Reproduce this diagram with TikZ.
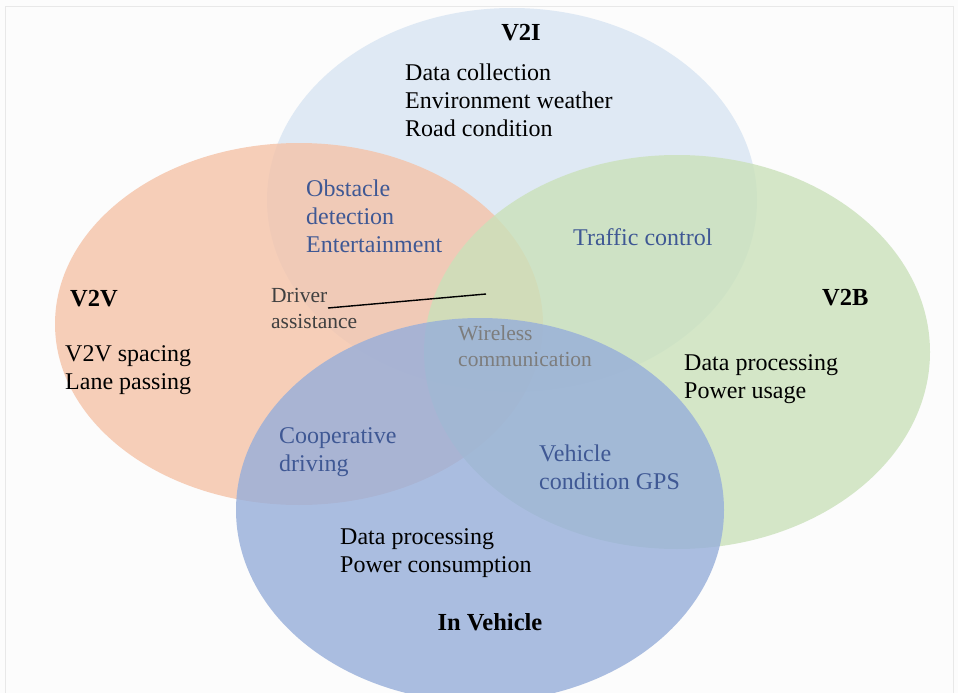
\documentclass[tikz,border=0pt]{standalone}
\usepackage{fontspec}
\setmainfont{Liberation Serif}
\usepackage{xcolor}
\usepackage{tikz}
\usetikzlibrary{positioning}

\definecolor{vtwoi}{RGB}{218,230,243}
\definecolor{vtwov}{RGB}{245,195,168}
\definecolor{vtwob}{RGB}{202,225,186}
\definecolor{invehicle}{RGB}{150,174,218}
\definecolor{linkblue}{RGB}{63,88,148}
\definecolor{wiregray}{RGB}{125,125,125}

\begin{document}
\begin{tikzpicture}[x=1pt, y=-1pt,
    txt/.style={anchor=base west, inner sep=0pt, align=left,
        font=\fontsize{24}{28}\selectfont},
    link/.style={txt, text=linkblue},
    small/.style={txt, font=\fontsize{21.5}{26}\selectfont},
    title/.style={anchor=base, inner sep=0pt, font=\fontsize{24.5}{28}\selectfont\bfseries}]
    \useasboundingbox (0,0) rectangle (958,693);
    \fill[gray!2] (0,0) rectangle (958,693);
    \draw[gray!18] (5,700) -- (5,6) -- (953,6) -- (953,700);

    % Four overlapping domains
    \fill[vtwoi, fill opacity=0.85] (512,200) ellipse [x radius=245, y radius=192];
    \fill[vtwov, fill opacity=0.8] (299,324) ellipse [x radius=244, y radius=181];
    \fill[vtwob, fill opacity=0.8] (677,352) ellipse [x radius=253, y radius=197];
    \fill[invehicle, fill opacity=0.8] (480,510) ellipse [x radius=244, y radius=192];

    % Domain titles
    \node[title] (v2i) at (521,41) {V2I};
    \node[title, anchor=base west] (v2v) at (70,306) {V2V};
    \node[title, anchor=base west] (v2b) at (822,305) {V2B};
    \node[title] (inv) at (490,630) {In Vehicle};

    % Domain contents (placed by their last baseline)
    \node[txt] (v2itxt) at (405,136) {Data collection\\Environment weather\\Road condition};
    \node[txt] (v2vtxt) at (65,389) {V2V spacing\\Lane passing};
    \node[txt] (v2btxt) at (684,398) {Data processing\\Power usage};
    \node[txt] (invtxt) at (340,572) {Data processing\\Power consumption};

    % Overlaps
    \node[link] (obst) at (306,252) {Obstacle\\detection\\Entertainment};
    \node[link] (traffic) at (573,245) {Traffic control};
    \node[link] (coop) at (279,471) {Cooperative\\driving};
    \node[link] (vcond) at (539,489) {Vehicle\\condition GPS};
    \node[small, text=wiregray] (wless) at (458,366) {Wireless\\communication};
    \node[small, text=black!75] (driver) at (271,328) {Driver\\assistance};

    % Pointer to the centre
    \coordinate (ptrA) at (328,308);
    \coordinate (ptrB) at (486,294);
    \draw[line width=1.4pt] (ptrA) -- (ptrB);
\end{tikzpicture}
\end{document}
